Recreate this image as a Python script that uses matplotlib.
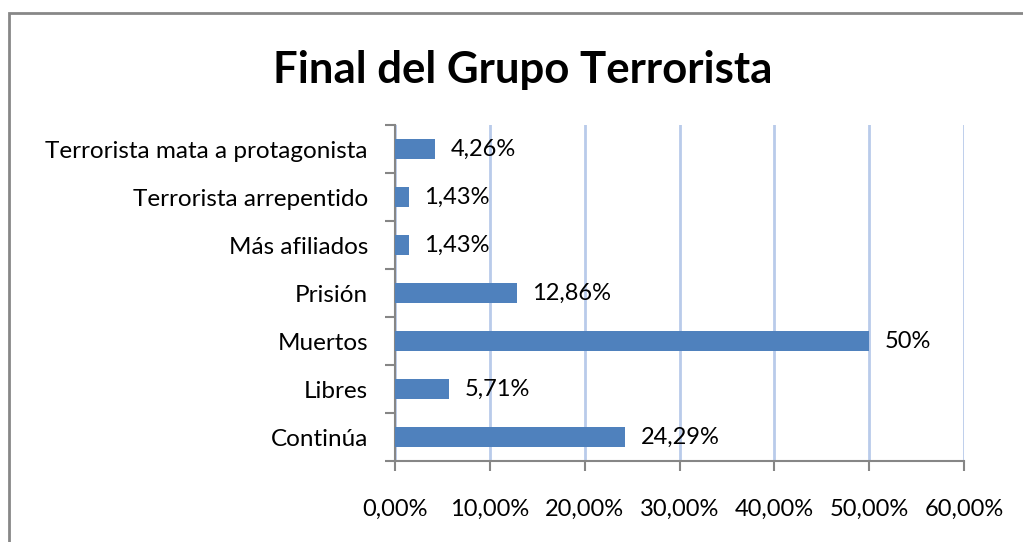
import matplotlib.pyplot as plt
from matplotlib.patches import Rectangle
from matplotlib.ticker import FuncFormatter, MultipleLocator

# ── DATA ──────────────────────────────────────────────────────────────────────

categories = ["Continúa", "Libres", "Muertos", "Prisión",
              "Más afiliados", "Terrorista arrepentido",
              "Terrorista mata a protagonista"]
values     = [24.29, 5.71, 50.0, 12.86, 1.43, 1.43, 4.26]
labels     = ["24,29%", "5,71%", "50%", "12,86%", "1,43%", "1,43%", "4,26%"]

BAR_COLOR  = "#4F81BD"
GRID_COLOR = "#B9CBEA"
AXIS_COLOR = "#868686"
FONT       = "Lato"

# ── PLOT ──────────────────────────────────────────────────────────────────────

plt.rcParams["font.family"] = [FONT, "DejaVu Sans"]

fig = plt.figure(figsize=(10.23, 5.42), dpi=100)
W, H = 1023, 542

# outer chart frame (runs off right / bottom edge)
fig.patches.append(Rectangle((9 / W, -0.1), 1.2, 1 - 13 / H + 0.1,
                             transform=fig.transFigure, fill=False,
                             edgecolor="#878787", linewidth=2))

ax = fig.add_axes([395 / W, 1 - 461 / H, (964 - 395) / W, (461 - 125) / H])

y = range(len(categories))
ax.barh(y, values, height=0.42, color=BAR_COLOR, zorder=3)

for yi, v, lab in zip(y, values, labels):
    ax.text(v + 1.6, yi, lab, va="center", ha="left", fontsize=17, zorder=4)

ax.set_xlim(0, 60)
ax.set_ylim(-0.5, len(categories) - 0.5)
ax.xaxis.set_major_locator(MultipleLocator(10))
ax.xaxis.set_major_formatter(FuncFormatter(lambda x, _: f"{x:.2f}%".replace(".", ",")))
ax.grid(axis="x", color=GRID_COLOR, linewidth=2, zorder=0)

ax.set_yticks(list(y))
ax.set_yticklabels(categories, fontsize=17.5)
ax.set_yticks([i - 0.5 for i in range(len(categories) + 1)], minor=True)
ax.tick_params(axis="y", which="major", length=0, pad=19.5)
ax.tick_params(axis="y", which="minor", length=7, color=AXIS_COLOR, width=1.5)
ax.tick_params(axis="x", length=7, color=AXIS_COLOR, width=1.5, pad=20, labelsize=17)

for side in ["top", "right"]:
    ax.spines[side].set_visible(False)
for side in ["left", "bottom"]:
    ax.spines[side].set_color(AXIS_COLOR)
    ax.spines[side].set_linewidth(1.5)

fig.text(523 / W, 1 - 70 / H, "Final del Grupo Terrorista", ha="center",
         va="center", fontsize=31.5, fontweight="bold")

fig.savefig("out.png", dpi=100)
